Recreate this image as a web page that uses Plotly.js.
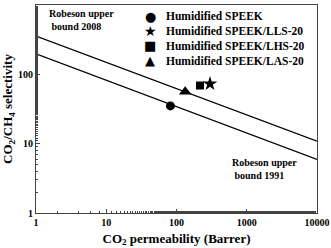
<!DOCTYPE html>
<html><head><meta charset="utf-8">
<script src="https://cdn.plot.ly/plotly-3.0.1.min.js"></script>
<style>html,body{margin:0;padding:0;background:#fff}</style>
</head><body>
<div id="chart" style="width:331px;height:248px"></div>
<script>
// Robeson upper bound lines (endpoints)
const boundX = [1, 10000];
const bound2008Y = [357, 10.9];
const bound1991Y = [198, 5.93];
// Membrane data: CO2 permeability (Barrer), CO2/CH4 selectivity
const seriesNames = ["Humidified SPEEK", "Humidified SPEEK/LLS-20", "Humidified SPEEK/LHS-20", "Humidified SPEEK/LAS-20"];
const permeability = [82, 300, 216, 133];
const selectivity = [35, 73, 69, 56];
const symbols = ["circle", "star", "square", "triangle-up"];
const legendGlyphs = ["\u25CF", "\u2605", "\u25A0", "\u25B2"];
const sizes = [9, 11, 8, 11];

const font = "Liberation Serif, Times New Roman, serif";
const traces = [
  {x: boundX, y: bound2008Y, mode: "lines", line: {color: "#000", width: 1.3}, showlegend: false, hoverinfo: "skip"},
  {x: boundX, y: bound1991Y, mode: "lines", line: {color: "#000", width: 1.3}, showlegend: false, hoverinfo: "skip"}
];
for (let i = 0; i < seriesNames.length; i++) {
  traces.push({x: [permeability[i]], y: [selectivity[i]], mode: "markers", name: seriesNames[i], showlegend: false,
    marker: {symbol: symbols[i], size: sizes[i], color: "#000"}});
}
const axisCommon = {type: "log", showline: true, mirror: true, linecolor: "#444", linewidth: 1,
  ticks: "inside", ticklen: 4, tickcolor: "#444", showgrid: false, zeroline: false,
  tickfont: {family: font, size: 10, color: "#000", weight: "bold"},
  minor: {ticks: "inside", ticklen: 2, tickcolor: "#444", showgrid: false}};

const annotations = [
  {xref: "paper", yref: "paper", x: 0.04, y: 0.995, xanchor: "left", yanchor: "top", showarrow: false,
   text: "Robeson upper<br> bound 2008", align: "left", font: {family: font, size: 10, weight: "bold"}},
  {xref: "paper", yref: "paper", x: 0.69, y: 0.28, xanchor: "left", yanchor: "top", showarrow: false,
   text: "Robeson upper<br> bound 1991", align: "left", font: {family: font, size: 10, weight: "bold"}}
];
const legendRowY = [0.947, 0.875, 0.803, 0.731];
for (let i = 0; i < seriesNames.length; i++) {
  annotations.push({xref: "paper", yref: "paper", x: 0.4057, y: legendRowY[i], xanchor: "center", yanchor: "middle",
    showarrow: false, text: legendGlyphs[i], font: {family: "DejaVu Sans", size: i === 1 ? 14 : 13, color: "#000"}});
  annotations.push({xref: "paper", yref: "paper", x: 0.455, y: legendRowY[i], xanchor: "left", yanchor: "middle",
    showarrow: false, text: seriesNames[i], font: {family: font, size: 11.5, weight: "bold", color: "#000"}});
}

const layout = {
  width: 331, height: 248,
  margin: {l: 36, r: 14, t: 5, b: 35},
  paper_bgcolor: "#fff", plot_bgcolor: "#fff",
  font: {family: font, color: "#000"},
  showlegend: false,
  xaxis: Object.assign({}, axisCommon, {range: [0, 4], tickvals: [1, 10, 100, 1000, 10000], ticktext: ["1","10","100","1000","10000"],
    title: {text: "CO<sub>2</sub> permeability (Barrer)", font: {family: font, size: 13, weight: "bold"}, standoff: 6}}),
  yaxis: Object.assign({}, axisCommon, {range: [0, 3], tickvals: [1, 10, 100, 1000], ticktext: ["1","10","100","1000"],
    title: {text: "CO<sub>2</sub>/CH<sub>4</sub> selectivity", font: {family: font, size: 13, weight: "bold"}, standoff: 2}}),
  annotations: annotations
};
Plotly.newPlot("chart", traces, layout, {displayModeBar: false, staticPlot: true});
</script>
</body></html>
